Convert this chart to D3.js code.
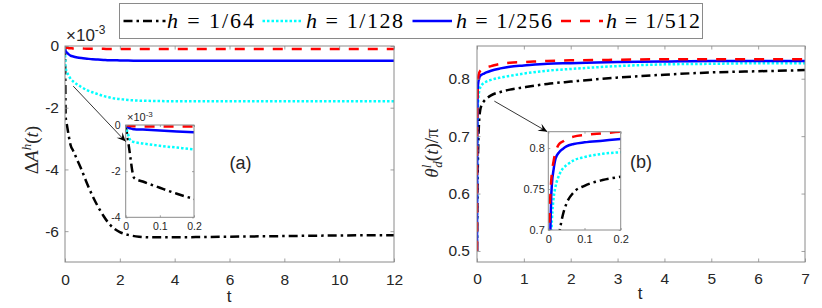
<!DOCTYPE html>
<html>
<head>
<meta charset="utf-8">
<script src="https://cdn.jsdelivr.net/npm/d3@7"></script>
<style>
body{margin:0;background:#fff;}
svg text{font-family:"Liberation Sans",Arial,sans-serif;fill:#262626;}
</style>
</head>
<body>
<div id="chart"></div>
<script>
// series
var seriesNames = ["1/64","1/128","1/256","1/512"];
var seriesColors = ["#000000","#00ffff","#0000ff","#ff0000"];
var seriesDash = ["9,4,2.5,4","2.5,2","none","10,9"];

// panel (a): Delta A^h(t), values x 1e-3
var tA = [0,0.005,0.01,0.015,0.02,0.025,0.05,0.1,0.15,0.2,0.3,0.45,0.6,0.8,1.0,1.2,1.4,1.6,1.8,2.0,2.3,2.7,3.2,4,5,6,8,10,12];
var dA64  = [0,-0.5,-1.0,-1.55,-2.05,-2.3,-2.45,-2.72,-2.98,-3.2,-3.4,-3.7,-4.0,-4.45,-4.85,-5.2,-5.5,-5.75,-5.92,-6.03,-6.12,-6.18,-6.2,-6.2,-6.19,-6.18,-6.16,-6.14,-6.13];
var dA128 = [0,-0.3,-0.55,-0.68,-0.72,-0.74,-0.8,-0.9,-0.98,-1.06,-1.15,-1.25,-1.33,-1.43,-1.5,-1.56,-1.62,-1.66,-1.7,-1.72,-1.75,-1.77,-1.78,-1.79,-1.79,-1.79,-1.79,-1.79,-1.79];
var dA256 = [0,-0.08,-0.13,-0.15,-0.17,-0.18,-0.2,-0.24,-0.28,-0.31,-0.34,-0.37,-0.39,-0.41,-0.43,-0.44,-0.45,-0.46,-0.46,-0.47,-0.47,-0.48,-0.48,-0.48,-0.48,-0.48,-0.48,-0.48,-0.48];
var dA512 = [0,-0.02,-0.03,-0.04,-0.05,-0.05,-0.06,-0.06,-0.07,-0.07,-0.08,-0.08,-0.08,-0.09,-0.09,-0.09,-0.09,-0.1,-0.1,-0.1,-0.1,-0.1,-0.1,-0.1,-0.1,-0.1,-0.1,-0.1,-0.1];

// panel (b): theta_d^l(t)/pi
var tB = [0,0.002,0.004,0.006,0.008,0.01,0.015,0.02,0.03,0.04,0.05,0.07,0.1,0.15,0.2,0.3,0.5,0.7,1,1.5,2,3,4,5,6,7];
var th64  = [0.5,0.52,0.54,0.56,0.58,0.6,0.635,0.66,0.695,0.718,0.732,0.746,0.754,0.761,0.765,0.771,0.777,0.781,0.785,0.791,0.795,0.802,0.807,0.811,0.813,0.815];
var th128 = [0.5,0.56,0.62,0.66,0.69,0.712,0.74,0.753,0.767,0.775,0.779,0.785,0.789,0.793,0.795,0.798,0.802,0.805,0.809,0.814,0.817,0.822,0.825,0.826,0.827,0.827];
var th256 = [0.5,0.6,0.66,0.705,0.74,0.756,0.775,0.787,0.795,0.799,0.802,0.805,0.807,0.809,0.811,0.814,0.818,0.821,0.823,0.826,0.827,0.829,0.83,0.831,0.831,0.831];
var th512 = [0.5,0.68,0.725,0.745,0.76,0.77,0.785,0.795,0.805,0.808,0.811,0.814,0.816,0.818,0.82,0.822,0.826,0.828,0.829,0.831,0.832,0.833,0.834,0.834,0.834,0.834];

// ticks
var ticksAx = [0,2,4,6,8,10,12];
var ticksAy = [0,-2,-4,-6];
var ticksBx = [0,1,2,3,4,5,6,7];
var ticksBy = [0.5,0.6,0.7,0.8];
var insetAx = [0,0.1,0.2];
var insetAy = [0,-2,-4];
var insetBx = [0,0.1,0.2];
var insetBy = [0.7,0.75,0.8];

var width = 822, height = 308;
var frameColor = "#8a8a8a";

var svg = d3.select("#chart").append("svg")
  .attr("width", width)
  .attr("height", height);

var seriesA = [dA64,dA128,dA256,dA512].map(function(v){
  return v.map(function(d,i){return {t:tA[i], v:d};});
});
var seriesB = [th64,th128,th256,th512].map(function(v){
  return v.map(function(d,i){return {t:tB[i], v:d};});
});

function fmt(d){ return String(d); }

// draws one axes box with ticks and lines, returns scales
function panel(o){
  var x = d3.scaleLinear().domain(o.xDom).range([o.left, o.right]);
  var y = d3.scaleLinear().domain(o.yDom).range([o.bottom, o.top]);
  var g = svg.append("g");

  g.append("rect")
  .attr("x", o.left).attr("y", o.top)
  .attr("width", o.right-o.left).attr("height", o.bottom-o.top)
  .attr("fill", "#fff");

  g.append("clipPath").attr("id", o.id)
  .append("rect")
  .attr("x", o.left).attr("y", o.top)
  .attr("width", o.right-o.left).attr("height", o.bottom-o.top);

  var line = d3.line()
  .curve(d3.curveMonotoneX)
  .x(function(d){return x(d.t);})
  .y(function(d){return y(d.v);});

  g.append("g")
  .attr("clip-path", "url(#" + o.id + ")")
  .selectAll("path")
  .data(o.series)
  .enter().append("path")
  .attr("fill", "none")
  .attr("stroke", function(d,i){return seriesColors[i];})
  .attr("stroke-width", o.lw)
  .attr("stroke-dasharray", function(d,i){return seriesDash[i];})
  .attr("d", line);

  var tl = o.tickLen;
  var bx = g.append("g").attr("transform", "translate(0," + o.bottom + ")")
  .call(d3.axisBottom(x).tickValues(o.xTicks).tickSize(-tl).tickPadding(o.xPad).tickFormat(fmt));
  var tx = g.append("g").attr("transform", "translate(0," + o.top + ")")
  .call(d3.axisTop(x).tickValues(o.xTicks).tickSize(-tl).tickFormat(""));
  var ly = g.append("g").attr("transform", "translate(" + o.left + ",0)")
  .call(d3.axisLeft(y).tickValues(o.yTicks).tickSize(-tl).tickPadding(o.yPad).tickFormat(fmt));
  var ry = g.append("g").attr("transform", "translate(" + o.right + ",0)")
  .call(d3.axisRight(y).tickValues(o.yTicks).tickSize(-tl).tickFormat(""));

  [bx,tx,ly,ry].forEach(function(a){
    a.select(".domain").remove();
    a.selectAll("line").attr("stroke", frameColor).attr("stroke-width", 0.8);
    a.selectAll("text")
    .style("font-size", o.fs + "px")
    .style("font-family", "'Liberation Sans',Arial,sans-serif")
    .attr("fill", "#262626");
  });

  g.append("rect")
  .attr("x", o.left).attr("y", o.top)
  .attr("width", o.right-o.left).attr("height", o.bottom-o.top)
  .attr("fill", "none")
  .attr("stroke", frameColor)
  .attr("stroke-width", 1);

  return {x:x, y:y, g:g};
}

function arrow(x1,y1,x2,y2){
  svg.append("line")
  .attr("x1",x1).attr("y1",y1).attr("x2",x2).attr("y2",y2)
  .attr("stroke","#000").attr("stroke-width",0.8);
  var a = Math.atan2(y2-y1, x2-x1), L = 9, W = 4;
  var bxp = x2 - L*Math.cos(a), byp = y2 - L*Math.sin(a);
  var mx = x2 - 0.6*L*Math.cos(a), my = y2 - 0.6*L*Math.sin(a);
  var px = -Math.sin(a), py = Math.cos(a);
  svg.append("path")
  .attr("d", "M" + x2 + "," + y2 +
    "L" + (bxp + W*px) + "," + (byp + W*py) +
    "L" + mx + "," + my +
    "L" + (bxp - W*px) + "," + (byp - W*py) + "Z")
  .attr("fill", "#000");
}

// panel (a)
var pA = panel({id:"clipA", left:65, right:394, top:46, bottom:262,
  xDom:[0,12], yDom:[-7,0], xTicks:ticksAx, yTicks:ticksAy,
  series:seriesA, lw:2.5, tickLen:3.5, fs:15.5, xPad:12, yPad:6});

// panel (b)
var pB = panel({id:"clipB", left:477, right:805, top:46, bottom:262,
  xDom:[0,7], yDom:[0.4808,0.857], xTicks:ticksBx, yTicks:ticksBy,
  series:seriesB, lw:2.5, tickLen:3.5, fs:15.5, xPad:11, yPad:7});

// exponent labels
svg.append("text")
.attr("x", 66).attr("y", 41)
.style("font-size", "17px")
.html('×10<tspan dy="-7" font-size="12">-3</tspan>');

// axis labels
svg.append("text")
.attr("x", 229).attr("y", 302)
.attr("text-anchor", "middle")
.style("font-size", "17px")
.text("t");
svg.append("text")
.attr("x", 640).attr("y", 299)
.attr("text-anchor", "middle")
.style("font-size", "17px")
.text("t");

svg.append("text")
.attr("transform", "translate(38,150) rotate(-90)")
.attr("text-anchor", "middle")
.style("font-family", "'Liberation Serif','DejaVu Serif',serif")
.style("font-size", "19px")
.html('Δ<tspan font-style="italic">A</tspan><tspan font-style="italic" font-size="13" dy="-7">h</tspan><tspan dy="7">(</tspan><tspan font-style="italic">t</tspan>)');

svg.append("text")
.attr("transform", "translate(438,153) rotate(-90)")
.attr("text-anchor", "middle")
.style("font-family", "'Liberation Serif','DejaVu Serif',serif")
.style("font-size", "19px")
.html('<tspan font-style="italic">θ</tspan><tspan font-style="italic" font-size="13" dy="-7">l</tspan><tspan font-style="italic" font-size="13" dx="-3" dy="11">d</tspan><tspan dy="-4">(</tspan><tspan font-style="italic">t</tspan>)/π');

// panel letters
svg.append("text").attr("x", 240.5).attr("y", 169)
.attr("text-anchor", "middle").style("font-size", "18px").text("(a)");
svg.append("text").attr("x", 641).attr("y", 168)
.attr("text-anchor", "middle").style("font-size", "18px").text("(b)");

// insets
var iA = panel({id:"clipIA", left:125.7, right:194, top:125, bottom:217.3,
  xDom:[0,0.2], yDom:[-4,0], xTicks:insetAx, yTicks:insetAy,
  series:seriesA, lw:2.5, tickLen:2, fs:10.5, xPad:5, yPad:5});
svg.append("text")
.attr("x", 127).attr("y", 121)
.style("font-size", "11px")
.html('×10<tspan dy="-4" font-size="8">-3</tspan>');

var iB = panel({id:"clipIB", left:548.3, right:620.7, top:131.7, bottom:230,
  xDom:[0,0.2], yDom:[0.7,0.82], xTicks:insetBx, yTicks:insetBy,
  series:seriesB, lw:2.5, tickLen:2, fs:11, xPad:5, yPad:3.5});

// arrows from the main curves to the insets
arrow(pA.x(0.3), pA.y(-1.3), iA.x(0), iA.y(-0.72));
arrow(pB.x(0.37), pB.y(0.761), iB.x(0) - 1, iB.y(0.82));

// legend
var legend = svg.append("g");
legend.append("rect")
.attr("x", 119.5).attr("y", 3.5)
.attr("width", 583).attr("height", 35)
.attr("fill", "#fff")
.attr("stroke", frameColor)
.attr("stroke-width", 1);

var legendSample = [[123.5,165.5],[262.5,301],[412.5,452],[561,603]];
var legendText = [[167,87],[306,97],[456,96],[606,94]];

legend.selectAll(".sample")
.data(seriesNames)
.enter().append("line")
.attr("class", "sample")
.attr("x1", function(d,i){return legendSample[i][0];})
.attr("x2", function(d,i){return legendSample[i][1];})
.attr("y1", 21).attr("y2", 21)
.attr("stroke", function(d,i){return seriesColors[i];})
.attr("stroke-width", 2.5)
.attr("stroke-dasharray", function(d,i){return seriesDash[i];});

legend.selectAll(".ltext")
.data(seriesNames)
.enter().append("text")
.attr("class", "ltext")
.attr("x", function(d,i){return legendText[i][0];})
.attr("y", 28)
.attr("textLength", function(d,i){return legendText[i][1];})
.attr("lengthAdjust", "spacing")
.style("font-family", "'Liberation Serif','DejaVu Serif',serif")
.style("font-size", "22px")
.style("fill", "#000")
.html(function(d){return '<tspan font-style="italic">h</tspan> = ' + d;});
</script>
</body>
</html>
